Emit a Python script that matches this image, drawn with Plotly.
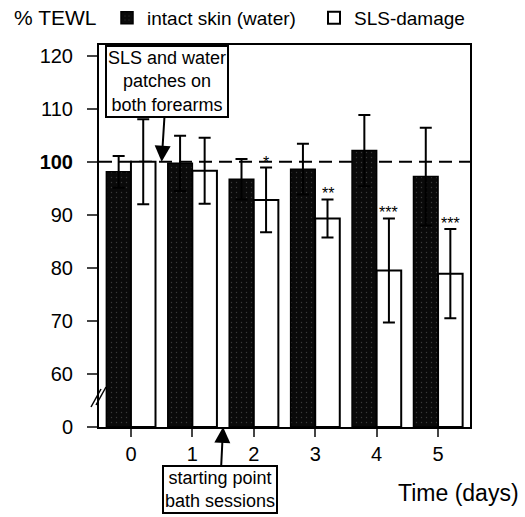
import plotly.graph_objects as go

days = [0, 1, 2, 3, 4, 5]
intact_mean = [98.1, 99.7, 96.7, 98.6, 102.1, 97.2]
intact_sd = [3.0, 5.2, 3.8, 4.8, 6.7, 9.2]
sls_mean = [100.0, 98.3, 92.8, 89.3, 79.5, 78.9]
sls_sd = [8.0, 6.2, 6.1, 3.6, 9.8, 8.4]
sig = ["", "", "*", "**", "***", "***"]
ytick_vals = [50, 60, 70, 80, 90, 100, 110, 120]
ytick_text = ["0", "60", "70", "80", "90", "<b>100</b>", "110", "120"]
BASE = 50  # axis break: 0 drawn where 50 would be

FONT = "Liberation Sans, Arial, sans-serif"
PLOT_H = 517 - 45 - 90
PLOT_W = 525 - 99 - 55
LEG_Y = 1 + (45 - 18) / PLOT_H

fig = go.Figure()
fig.add_trace(go.Bar(
    x=days, y=[v - BASE for v in intact_mean], base=BASE,
    name="intact skin (water)", legend="legend",
    marker=dict(color="#0a0a0a", line=dict(color="black", width=1.5),
                pattern=dict(shape=".", fgcolor="#6a6a6a", bgcolor="#0a0a0a",
                             size=5, solidity=0.06)),
    error_y=dict(type="data", array=intact_sd, color="black", thickness=2, width=6),
))
fig.add_trace(go.Bar(
    x=days, y=[v - BASE for v in sls_mean], base=BASE,
    name="SLS-damage", legend="legend2",
    marker=dict(color="white", line=dict(color="black", width=2)),
    error_y=dict(type="data", array=sls_sd, color="black", thickness=2, width=6),
))

# significance marks
for d, m, s, t in zip(days, sls_mean, sls_sd, sig):
    if t:
        fig.add_annotation(x=d + 0.2, y=m + s, text=t, showarrow=False,
                           yanchor="bottom", yshift=-5, bgcolor="rgba(0,0,0,0)",
                           font=dict(family=FONT, size=16, color="black"))

# reference line at 100 %
fig.add_shape(type="line", xref="paper", x0=0, x1=1, y0=100, y1=100,
              line=dict(color="black", width=2, dash="13px,7px"), layer="below")

# axis break marks
for dx in (0, 5):
    fig.add_shape(type="line", xref="paper", yref="paper",
                  x0=(-8 + dx) / PLOT_W, x1=(2 + dx) / PLOT_W,
                  y0=(427 - 407 + dx * 0.4) / PLOT_H, y1=(427 - 389 + dx * 0.4) / PLOT_H,
                  line=dict(color="black", width=1.5))

# annotation boxes with arrows
fig.add_annotation(x=0.5, y=100, text="SLS and water<br>patches on<br>both forearms",
                   showarrow=True, ax=5, ay=-80, arrowhead=2, arrowsize=1.6,
                   arrowwidth=2, arrowcolor="black", standoff=0,
                   bordercolor="black", borderwidth=2, borderpad=1, bgcolor="white",
                   font=dict(family=FONT, size=18, color="black"))
fig.add_annotation(x=1.5, y=0, yref="paper", text="starting point<br>bath sessions",
                   showarrow=True, ax=-3, ay=62, arrowhead=2, arrowsize=1.6,
                   arrowwidth=2, arrowcolor="black",
                   bordercolor="black", borderwidth=2, borderpad=1, bgcolor="white",
                   font=dict(family=FONT, size=18, color="black"))

fig.add_annotation(x=(521 - 99) / PLOT_W, y=-(493 - 427) / PLOT_H, xref="paper", yref="paper",
                   text="Time (days)", showarrow=False, xanchor="right", yanchor="middle",
                   font=dict(family=FONT, size=23, color="black"))
fig.add_annotation(x=(12 - 99) / PLOT_W, y=LEG_Y, xref="paper", yref="paper",
                   text="% TEWL", showarrow=False, xanchor="left", yanchor="middle",
                   font=dict(family=FONT, size=21, color="black"))

legend_style = dict(orientation="h", yanchor="middle", xanchor="left", y=LEG_Y,
                    font=dict(family=FONT, size=19, color="black"),
                    bgcolor="rgba(0,0,0,0)", itemwidth=30)

fig.update_layout(
    width=525, height=517,
    margin=dict(l=99, r=55, t=45, b=90, autoexpand=False),
    paper_bgcolor="white", plot_bgcolor="white",
    barmode="group", bargap=0.2, bargroupgap=0,
    font=dict(family=FONT, size=18, color="black"),
    showlegend=True,
    legend=dict(x=(107 - 99) / PLOT_W, **legend_style),
    legend2=dict(x=(314 - 99) / PLOT_W, **legend_style),
    xaxis=dict(range=[-0.52, 5.52], tickvals=days, ticks="outside", ticklen=8,
               tickwidth=2, showline=True, linecolor="black", linewidth=2,
               mirror=True, showgrid=False, zeroline=False,
               tickfont=dict(family=FONT, size=20)),
    yaxis=dict(range=[BASE, 122], tickvals=ytick_vals, ticktext=ytick_text,
               ticks="outside", ticklen=10, tickwidth=2, showline=True,
               linecolor="black", linewidth=2, mirror=True, showgrid=False,
               zeroline=False, ticklabelstandoff=10,
               tickfont=dict(family=FONT, size=20)),
)

fig.write_html("out.html", config={"displayModeBar": False},
               post_script="document.body.style.margin='0';document.body.style.overflow='hidden';")
